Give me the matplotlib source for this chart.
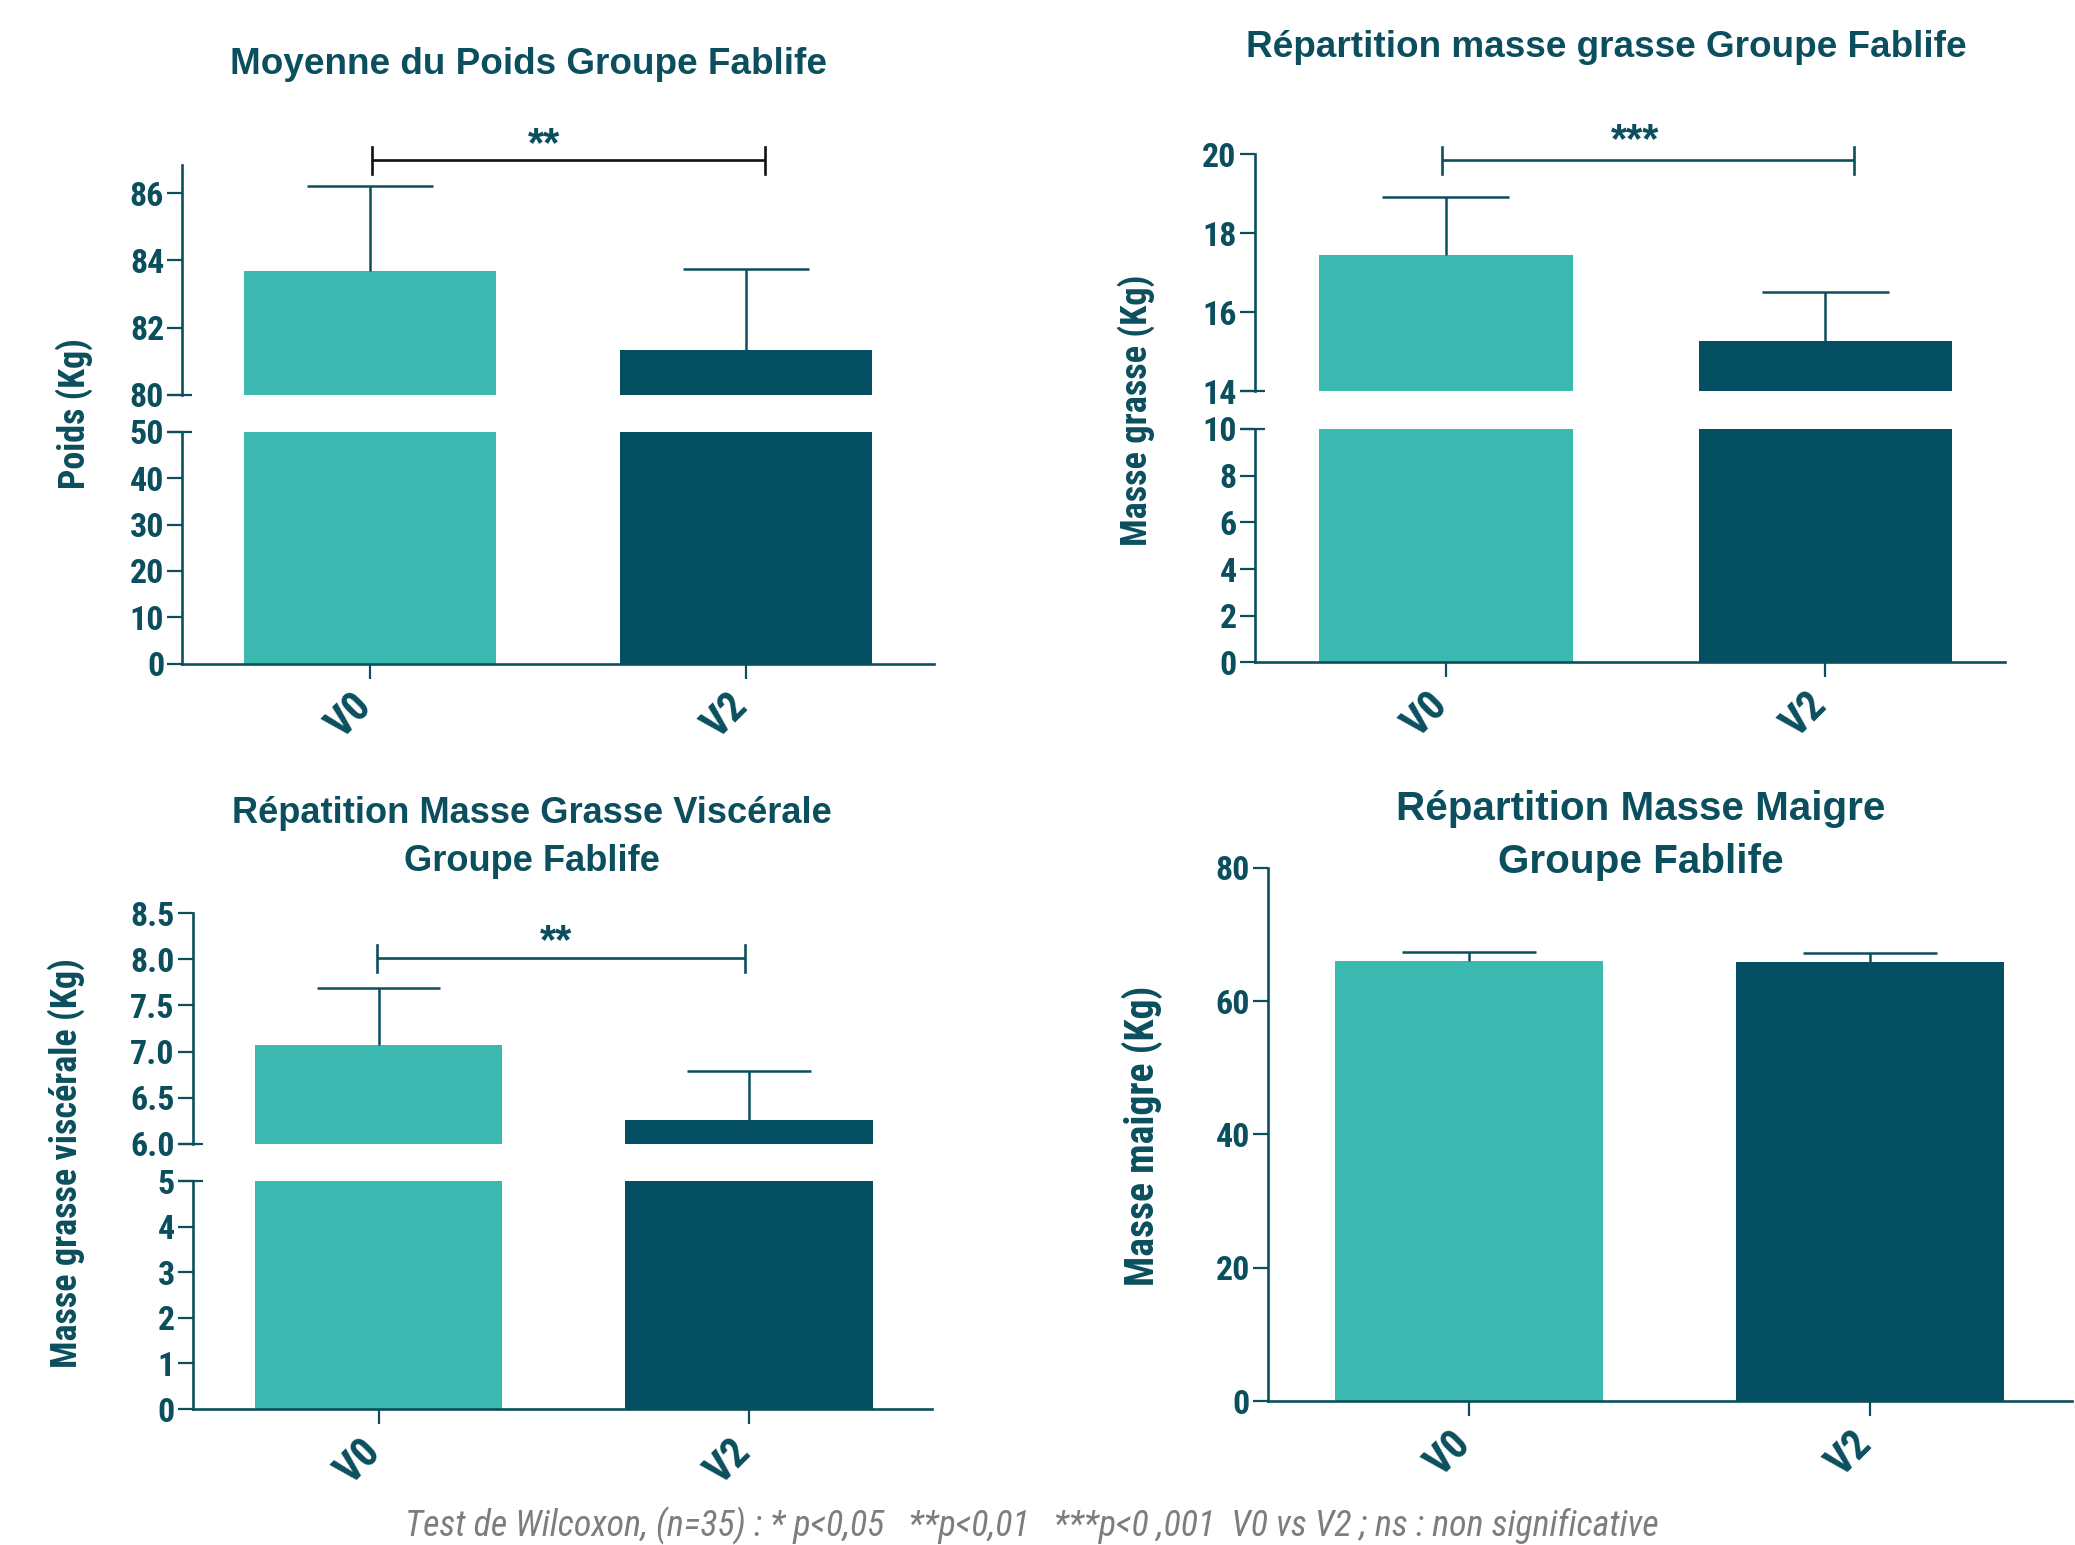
import matplotlib
matplotlib.use('Agg')
import matplotlib.pyplot as plt
from matplotlib import font_manager
from matplotlib.transforms import ScaledTranslation

W, H, DPI = 2075, 1545, 100

# ---------------- data ----------------
categories = ['V0', 'V2']
poids_mean = [83.67, 81.34]
poids_sem = [2.53, 2.41]
grasse_mean = [17.44, 15.28]
grasse_sem = [1.47, 1.24]
visc_mean = [7.07, 6.26]
visc_sem = [0.62, 0.53]
maigre_mean = [66.0, 65.9]
maigre_sem = [1.32, 1.35]

poids_ticks_low = [0, 10, 20, 30, 40, 50]
poids_ticks_high = [80, 82, 84, 86]
grasse_ticks_low = [0, 2, 4, 6, 8, 10]
grasse_ticks_high = [14, 16, 18, 20]
visc_ticks_low = [0, 1, 2, 3, 4, 5]
visc_ticks_high = [6.0, 6.5, 7.0, 7.5, 8.0, 8.5]
maigre_ticks = [0, 20, 40, 60, 80]

titles = [
    ['Moyenne du Poids Groupe Fablife'],
    ['Répartition masse grasse Groupe Fablife'],
    ['Répatition Masse Grasse Viscérale', 'Groupe Fablife'],
    ['Répartition Masse Maigre', 'Groupe Fablife'],
]
ylabels = ['Poids (Kg)', 'Masse grasse (Kg)', 'Masse grasse viscérale (Kg)', 'Masse maigre (Kg)']
sig_labels = ['**', '***', '**']
footer = ('Test de Wilcoxon, (n=35) : * p<0,05   **p<0,01   ***p<0 ,001  '
          'V0 vs V2 ; ns : non significative')

# ---------------- style ----------------
C_V0 = '#3bb8af'
C_V2 = '#044f61'
INK = '#0b4f5e'
GREY = '#7d7d7d'
BAR_W = 0.668
SPLW = 1.9
TICKLEN = 10.8
TICKW = 1.6
ELW = 1.8

avail = {f.name for f in font_manager.fontManager.ttflist}


def pick(cands):
    for c in cands:
        if c in avail:
            return c
    return 'DejaVu Sans'


MAIN = pick(['Liberation Sans', 'Arial', 'DejaVu Sans'])
NARROW = pick(['Liberation Sans Narrow', 'Roboto Condensed', 'Open Sans Condensed', 'Liberation Sans'])
plt.rcParams['font.family'] = [MAIN, 'DejaVu Sans']
NFAM = [NARROW, 'DejaVu Sans']

fig = plt.figure(figsize=(W / DPI, H / DPI), dpi=DPI)
fig.patch.set_facecolor('white')


def px_rect(x0, x1, ytop, ybot):
    return [x0 / W, 1 - ybot / H, (x1 - x0) / W, (ybot - ytop) / H]


xs = list(range(len(categories)))
colors = [C_V0, C_V2]


def style_y(ax, ticks, fmt=None):
    for s in ['top', 'right']:
        ax.spines[s].set_visible(False)
    ax.spines['left'].set_linewidth(SPLW)
    ax.spines['left'].set_color(INK)
    ax.set_yticks(ticks)
    if fmt:
        ax.set_yticklabels([fmt.format(t) for t in ticks])
    ax.tick_params(axis='y', direction='out', length=TICKLEN, width=TICKW,
                   colors=INK, pad=2)
    for lab in ax.get_yticklabels():
        lab.set_fontweight('bold')
        lab.set_fontfamily(NFAM)
        lab.set_fontsize(24.5)
    ax.set_facecolor('none')


def style_x(ax, visible):
    if not visible:
        ax.spines['bottom'].set_visible(False)
        ax.tick_params(axis='x', bottom=False, labelbottom=False)
        return
    ax.spines['bottom'].set_linewidth(SPLW)
    ax.spines['bottom'].set_color(INK)
    ax.set_xticks(xs)
    ax.tick_params(axis='x', direction='out', length=TICKLEN, width=TICKW,
                   colors=INK, pad=5)
    ax.set_xticklabels(categories, rotation=45, ha='right', va='top',
                       rotation_mode='anchor', fontsize=30, fontweight='bold',
                       color=INK, family=NFAM)
    shift = ScaledTranslation(-19 / DPI, 0, fig.dpi_scale_trans)
    for lab in ax.get_xticklabels():
        lab.set_transform(lab.get_transform() + shift)


def draw_bars(ax, means, sems, with_err):
    ax.bar(xs, means, width=BAR_W, color=colors, zorder=2)
    if with_err:
        tops = [m + s for m, s in zip(means, sems)]
        ax.vlines(xs, means, tops, color=INK, lw=ELW, zorder=3)
        ax.hlines(tops, [x - BAR_W / 4 for x in xs], [x + BAR_W / 4 for x in xs],
                  color=INK, lw=ELW, zorder=3)


def break_mark(ax, at_top):
    axw = ax.get_position().width * W
    y = 1 if at_top else 0
    ax.plot([-TICKLEN * DPI / 72 / axw, 10 / axw], [y, y], transform=ax.transAxes,
            color=INK, lw=TICKW, clip_on=False, solid_capstyle='butt')


def bracket(ax, x0, x1, y, color, text, tx, ty, fs):
    ax.plot([x0, x1], [y, y], color=color, lw=1.9, clip_on=False, solid_capstyle='butt')
    p = ax.transData.transform((0, y))
    inv = ax.transData.inverted()
    yl = inv.transform((p[0], p[1] - 13.5))[1]
    yh = inv.transform((p[0], p[1] + 13.5))[1]
    ax.plot([x0, x0], [yl, yh], color=color, lw=1.9, clip_on=False)
    ax.plot([x1, x1], [yl, yh], color=color, lw=1.9, clip_on=False)
    ax.annotate(text, xy=(tx, ty), xytext=(0, -0.58 * fs + 5), textcoords='offset points',
                ha='center', va='baseline', fontsize=fs, fontweight='bold',
                color=INK, annotation_clip=False)


split_panels = [
    dict(x=(182, 934), xlim=(-0.5, 1.5), up=(164.5, 394.9), low=(432, 663.5),
         means=poids_mean, sems=poids_sem, hi=poids_ticks_high, lo=poids_ticks_low,
         ylim_hi=(80, 86.85), ylim_lo=(0, 50), fmt=None,
         br=(0.006, 1.05, 86.97, '#111111', 0.463, 87.61)),
    dict(x=(1254.5, 2005), xlim=(-0.504, 1.473), up=(154.3, 391.2), low=(428.8, 662.5),
         means=grasse_mean, sems=grasse_sem, hi=grasse_ticks_high, lo=grasse_ticks_low,
         ylim_hi=(14, 20), ylim_lo=(0, 10), fmt=None,
         br=(-0.01, 1.076, 19.85, INK, 0.499, 20.5)),
    dict(x=(192.6, 932), xlim=(-0.502, 1.494), up=(913, 1144), low=(1181, 1409),
         means=visc_mean, sems=visc_sem, hi=visc_ticks_high, lo=visc_ticks_low,
         ylim_hi=(6.0, 8.5), ylim_lo=(0, 5), fmt='{:.1f}',
         br=(-0.003, 0.99, 8.01, INK, 0.479, 8.25)),
]

for i, p in enumerate(split_panels):
    axu = fig.add_axes(px_rect(p['x'][0], p['x'][1], *p['up']))
    axl = fig.add_axes(px_rect(p['x'][0], p['x'][1], *p['low']))
    for ax in (axu, axl):
        ax.set_xlim(*p['xlim'])
    axu.set_ylim(*p['ylim_hi'])
    axl.set_ylim(*p['ylim_lo'])
    draw_bars(axu, p['means'], p['sems'], True)
    draw_bars(axl, p['means'], p['sems'], False)
    style_y(axu, p['hi'], p['fmt'])
    style_y(axl, p['lo'])
    style_x(axu, False)
    style_x(axl, True)
    break_mark(axu, False)
    break_mark(axl, True)
    x0, x1, yb, col, tx, ty = p['br']
    bracket(axu, x0, x1, yb, col, sig_labels[i], tx, ty, 30)

# single panel (masse maigre)
ax4 = fig.add_axes(px_rect(1267.7, 2072, 867.7, 1401))
ax4.set_xlim(-0.502, 1.504)
ax4.set_ylim(0, 80)
draw_bars(ax4, maigre_mean, maigre_sem, True)
style_y(ax4, maigre_ticks)
style_x(ax4, True)

renderer = fig.canvas.get_renderer()


def fit(t, target, use_height=False):
    for _ in range(2):
        bb = t.get_window_extent(renderer)
        cur = bb.height if use_height else bb.width
        t.set_fontsize(t.get_fontsize() * target / cur)


# titles: (center x, baseline y, target width of first line, second baseline)
title_pos = [
    (528.3, 74.4, 598, None),
    (1606, 57.4, 720, None),
    (532, 822.6, 598, 871),
    (1640.5, 820, 489, 872.7),
]
for lines, (cx, by, tw, by2) in zip(titles, title_pos):
    t = fig.text(cx / W, 1 - by / H, lines[0], ha='center', va='baseline',
                 fontsize=28, fontweight='bold', color=INK)
    fit(t, tw)
    if len(lines) > 1:
        fig.text(cx / W, 1 - by2 / H, lines[1], ha='center', va='baseline',
                 fontsize=t.get_fontsize(), fontweight='bold', color=INK)

# y labels: (center x, center y, target length)
ylabel_pos = [(74, 414, 151), (1136, 410, 272), (66, 1163, 410), (1142, 1135.5, 301)]
for lab, (cx, cy, L) in zip(ylabels, ylabel_pos):
    t = fig.text(cx / W, 1 - cy / H, lab, rotation=90, ha='center', va='center',
                 fontsize=24, fontweight='bold', color=INK, family=NFAM)
    fit(t, L, use_height=True)

ft = fig.text(1032 / W, 1 - 1536 / H, footer, ha='center', va='baseline',
              fontsize=20, style='italic', fontweight='normal', color=GREY,
              family=NFAM)
fit(ft, 1258)

fig.savefig('out.png', dpi=DPI, facecolor='white')
